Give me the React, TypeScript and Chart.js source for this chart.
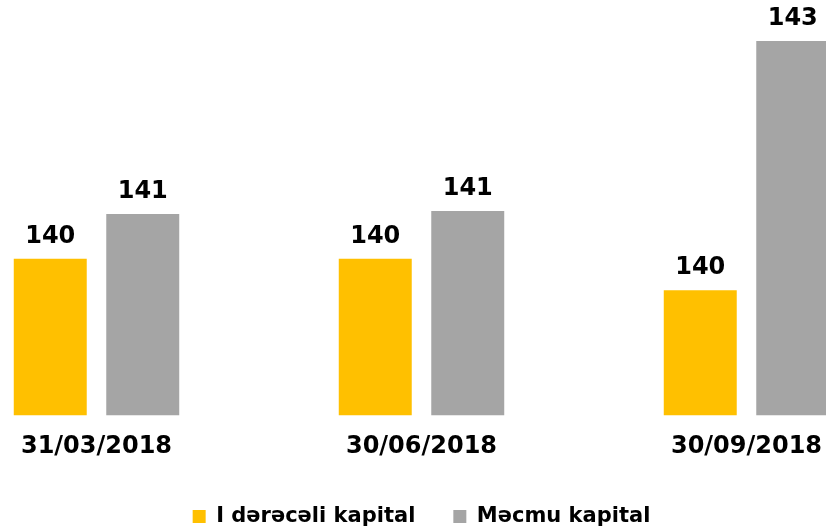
import React, { useEffect, useRef } from "react";
import { Chart, registerables } from "chart.js";

Chart.register(...registerables);

const categories = ["31/03/2018", "30/06/2018", "30/09/2018"];
const seriesNames = ["I dərəcəli kapital", "Məcmu kapital"];
const tier1Values = [140.09, 140.09, 139.67];
const totalValues = [140.69, 140.73, 143.0];
const seriesColors = ["#FFC000", "#A5A5A5"];

const FONT = "'DejaVu Sans', Verdana, sans-serif";

const valueLabels = {
  id: "valueLabels",
  afterDatasetsDraw(chart: any) {
    const ctx = chart.ctx;
    ctx.save();
    ctx.font = `bold 24px ${FONT}`;
    ctx.fillStyle = "#000";
    ctx.textAlign = "center";
    ctx.textBaseline = "alphabetic";
    chart.data.datasets.forEach((ds: any, i: number) => {
      const meta = chart.getDatasetMeta(i);
      meta.data.forEach((el: any, j: number) => {
        const v = ds.data[j] as number;
        ctx.fillText(v.toFixed(0), el.x, el.y - 16);
      });
    });
    ctx.restore();
  },
};

export default function App() {
  const ref = useRef<HTMLCanvasElement | null>(null);
  useEffect(() => {
    if (!ref.current) return;
    const chart = new Chart(ref.current, {
      type: "bar",
      data: {
        labels: categories,
        datasets: [
          {
            label: seriesNames[0],
            data: tier1Values,
            backgroundColor: seriesColors[0],
            categoryPercentage: 0.5692,
            barPercentage: 0.789,
          },
          {
            label: seriesNames[1],
            data: totalValues,
            backgroundColor: seriesColors[1],
            categoryPercentage: 0.5692,
            barPercentage: 0.789,
          },
        ],
      },
      options: {
        animation: false,
        responsive: false,
        layout: { padding: { top: 41, left: 0, right: 0, bottom: 0 } },
        plugins: {
          tooltip: { enabled: false },
          legend: {
            position: "bottom",
            labels: {
              boxWidth: 13,
              boxHeight: 13,
              padding: 38,
              color: "#000",
              font: { family: FONT, size: 21, weight: "bold" },
            },
          },
        },
        scales: {
          x: {
            grid: { display: false, drawTicks: false },
            border: { display: false },
            ticks: {
              color: "#000",
              padding: 17,
              font: { family: FONT, size: 24, weight: "bold" },
            },
            afterFit: (s: any) => {
              s.height -= 10;
            },
          },
          y: {
            display: false,
            min: 138,
            max: 143,
          },
        },
      },
      plugins: [valueLabels],
    });
    return () => chart.destroy();
  }, []);

  return (
    <div
      style={{
        position: "fixed",
        left: 0,
        top: 0,
        width: 826,
        height: 531,
        overflow: "hidden",
        background: "#fff",
      }}
    >
      <canvas
        ref={ref}
        width={975}
        height={537}
        style={{ position: "absolute", left: -66, top: 0 }}
      />
    </div>
  );
}
